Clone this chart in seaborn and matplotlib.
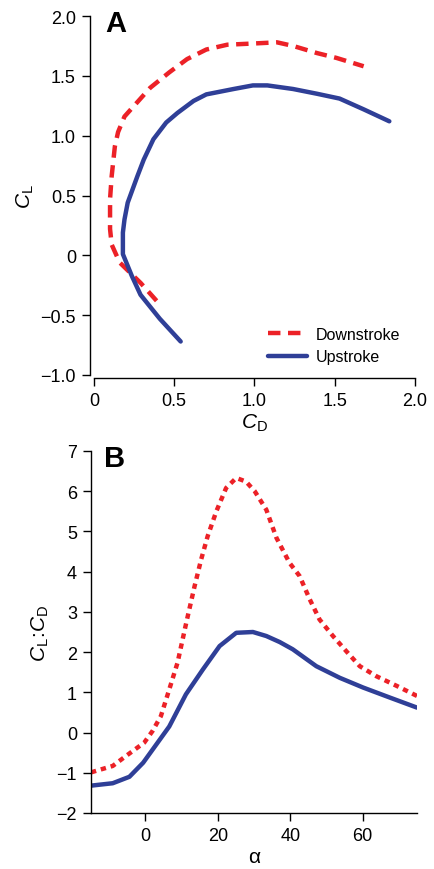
import matplotlib
matplotlib.use("Agg")
import matplotlib.pyplot as plt
import seaborn as sns

# --- panel A: polar diagram (CD, CL) ---
down_cd = [0.39, 0.29, 0.16, 0.11, 0.10, 0.10, 0.11, 0.13, 0.15, 0.19, 0.27, 0.35,
           0.47, 0.58, 0.70, 0.83, 0.99, 1.14, 1.24, 1.39, 1.51, 1.68]
down_cl = [-0.38, -0.23, -0.06, 0.09, 0.22, 0.47, 0.66, 0.91, 1.03, 1.16, 1.28, 1.40,
           1.53, 1.64, 1.72, 1.76, 1.77, 1.78, 1.75, 1.69, 1.65, 1.58]
up_cd = [0.54, 0.41, 0.29, 0.235, 0.18, 0.18, 0.19, 0.21, 0.27, 0.31, 0.37, 0.45,
         0.52, 0.62, 0.70, 0.87, 0.99, 1.08, 1.24, 1.39, 1.53, 1.68, 1.84]
up_cl = [-0.72, -0.53, -0.33, -0.17, 0.01, 0.19, 0.30, 0.44, 0.66, 0.80, 0.97, 1.11,
         1.19, 1.29, 1.345, 1.39, 1.42, 1.42, 1.39, 1.35, 1.31, 1.22, 1.12]

# --- panel B: lift-to-drag ratio vs angle of attack ---
down_alpha = [-15, -9.0, -5.3, -0.3, 2.0, 4.3, 6.6, 8.9, 11.3, 13.6, 15.4, 17.2, 19.6,
              22.3, 25.1, 27.8, 30.2, 33.4, 36.2, 39.8, 42.6, 45.4, 48.1, 51.8, 55.5,
              59.2, 63.8, 69.4, 75]
down_ratio = [-0.99, -0.83, -0.58, -0.25, 0.04, 0.41, 1.07, 1.74, 2.73, 3.64, 4.30, 4.88,
              5.50, 6.08, 6.33, 6.24, 6.00, 5.54, 4.84, 4.22, 3.89, 3.31, 2.81, 2.40,
              2.02, 1.65, 1.40, 1.16, 0.91]
up_alpha = [-15, -9.0, -4.4, -0.6, 3.0, 6.6, 11.2, 15.9, 20.5, 25.1, 29.7, 33.4, 37.1,
            40.7, 47.2, 53.7, 60.1, 67.5, 75]
up_ratio = [-1.32, -1.26, -1.10, -0.75, -0.30, 0.15, 0.95, 1.57, 2.15, 2.48, 2.50, 2.40,
            2.25, 2.07, 1.65, 1.36, 1.12, 0.87, 0.62]

RED = "#ec2127"
BLUE = "#2f3f97"

sns.set_style("ticks")
plt.rcParams["font.family"] = ["Liberation Sans", "DejaVu Sans"]
plt.rcParams["mathtext.fontset"] = "custom"
plt.rcParams["mathtext.rm"] = "Liberation Sans"
plt.rcParams["mathtext.it"] = "Liberation Sans:italic"
plt.rcParams["font.size"] = 13
plt.rcParams["xtick.labelsize"] = 13
plt.rcParams["ytick.labelsize"] = 13
plt.rcParams["axes.linewidth"] = 1.0
for key in ["text.color", "axes.labelcolor", "xtick.color", "ytick.color", "axes.edgecolor"]:
    plt.rcParams[key] = "black"

fig = plt.figure(figsize=(4.35, 8.7), dpi=100)
W, H = 435, 870
axA = fig.add_axes([94 / W, 1 - 376 / H, (415 - 94) / W, (376 - 17) / H])
axB = fig.add_axes([91 / W, 1 - 814 / H, (417 - 91) / W, (814 - 452) / H])

# panel A
sns.lineplot(x=down_cd, y=down_cl, sort=False, estimator=None, ax=axA, color=RED,
             lw=3.2, label="Downstroke")
axA.lines[-1].set_dashes((2.8, 1.7))
sns.lineplot(x=up_cd, y=up_cl, sort=False, estimator=None, ax=axA, color=BLUE,
             lw=3.2, label="Upstroke")
axA.set_xlim(0, 2.0)
axA.set_ylim(-1.0, 2.0)
axA.set_xticks([0, 0.5, 1.0, 1.5, 2.0])
axA.set_xticklabels(["0", "0.5", "1.0", "1.5", "2.0"])
axA.set_yticks([-1.0, -0.5, 0, 0.5, 1.0, 1.5, 2.0])
axA.set_yticklabels(["\u22121.0", "\u22120.5", "0", "0.5", "1.0", "1.5", "2.0"])
axA.set_xlabel(r"$\mathit{C}_{\mathrm{D}}$", fontsize=15, labelpad=2)
axA.set_ylabel(r"$\mathit{C}_{\mathrm{L}}$", fontsize=15, labelpad=3)
leg = axA.legend(loc="lower right", frameon=False, fontsize=11.5, handlelength=2.4,
                 bbox_to_anchor=(1.0, -0.01), handletextpad=0.6, labelspacing=0.45)
axA.text(0.035, 1.02, "A", transform=axA.transAxes, fontsize=21, fontweight="bold",
         va="top", ha="left")

# panel B
sns.lineplot(x=down_alpha, y=down_ratio, sort=False, estimator=None, ax=axB, color=RED,
             lw=3.2)
axB.lines[-1].set_dashes((1.2, 1.1))
sns.lineplot(x=up_alpha, y=up_ratio, sort=False, estimator=None, ax=axB, color=BLUE,
             lw=3.2)
axB.set_xlim(-15, 75)
axB.set_ylim(-2, 7)
axB.set_xticks([0, 20, 40, 60])
axB.set_yticks(range(-2, 8))
axB.set_yticklabels(["\u22122", "\u22121", "0", "1", "2", "3", "4", "5", "6", "7"])
axB.set_xlabel("\u03b1", fontsize=15, labelpad=2)
axB.set_ylabel(r"$\mathit{C}_{\mathrm{L}}\!:\!\mathit{C}_{\mathrm{D}}$", fontsize=15,
               labelpad=4)
axB.text(0.04, 1.02, "B", transform=axB.transAxes, fontsize=21, fontweight="bold",
         va="top", ha="left")

for ax in (axA, axB):
    sns.despine(ax=ax)
    ax.tick_params(width=1.0, length=6, pad=4, colors="black")
sns.despine(ax=axA, offset={"left": 3, "bottom": 2})

fig.savefig("out.png", dpi=100)
